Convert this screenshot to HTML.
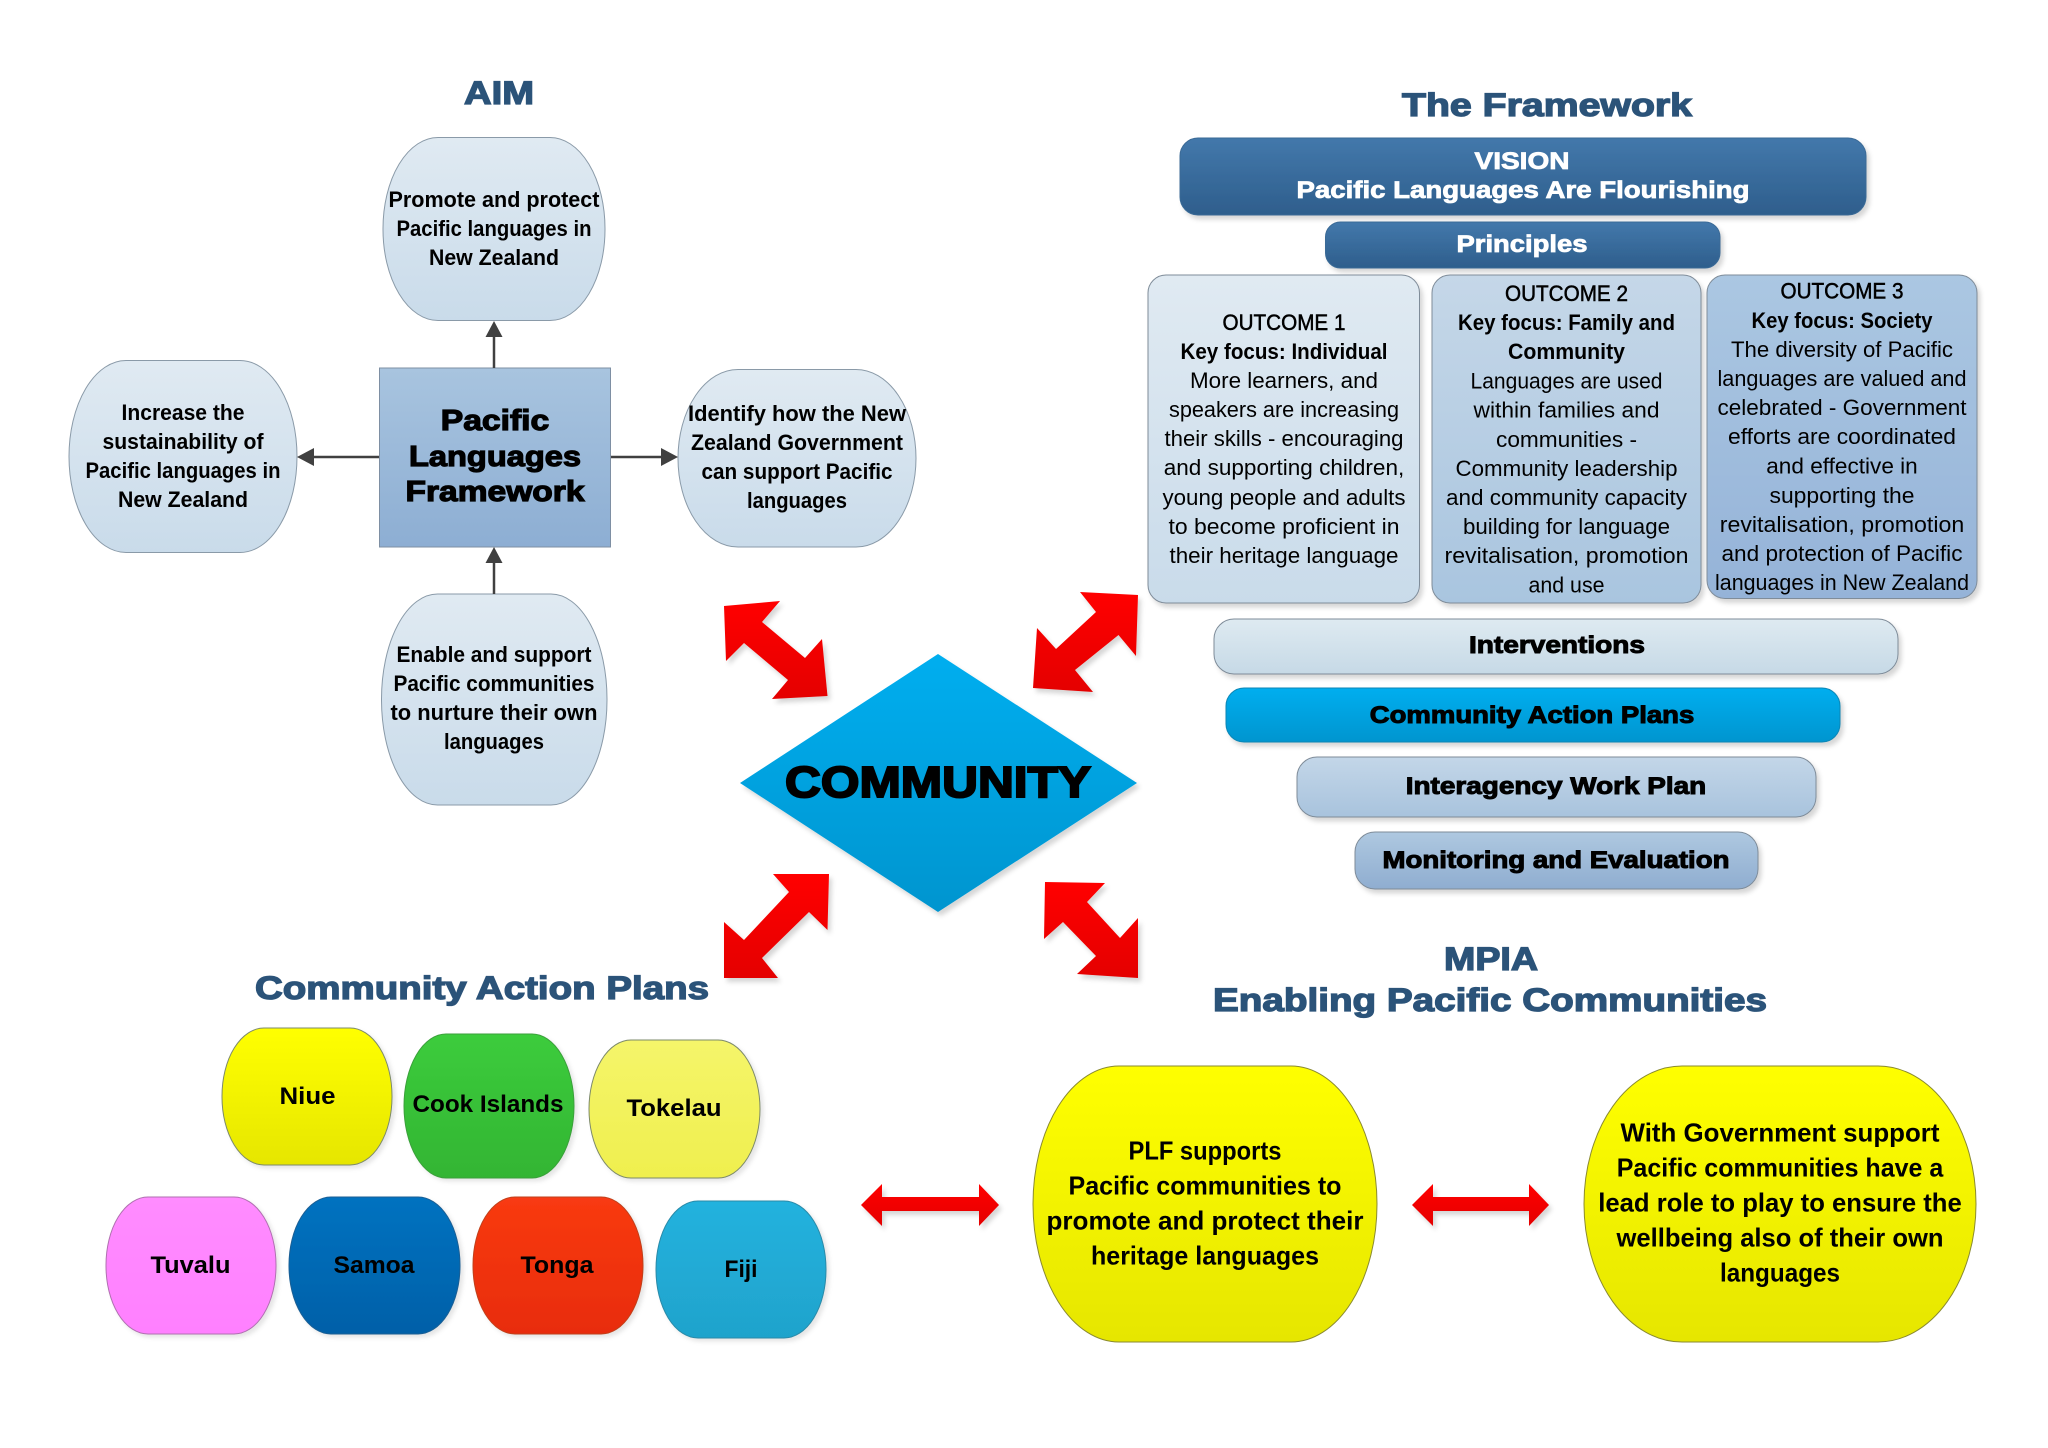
<!DOCTYPE html>
<html lang="en">
<head>
<meta charset="utf-8">
<title>Pacific Languages Framework</title>
<style>
html,body{margin:0;padding:0;background:#fff;}
svg{display:block;}
text{font-family:"Liberation Sans",Arial,sans-serif;text-anchor:middle;fill:#000;}
.b{font-size:22px;font-weight:bold;}
.r{font-size:22px;}
.m{font-size:22px;stroke:#000;stroke-width:.5px;}
.c{font-size:24px;font-weight:bold;}
.y{font-size:26px;font-weight:bold;}
.h{font-size:32px;font-weight:bold;fill:#2b5379;stroke:#2b5379;stroke-width:1.3px;}
.w{font-size:24.500px;font-weight:bold;fill:#fff;stroke:#fff;stroke-width:.8px;}
.k{font-size:24px;font-weight:bold;stroke:#000;stroke-width:1px;}
.f{font-size:29px;font-weight:bold;stroke:#000;stroke-width:1.2px;}
.d{font-size:44px;font-weight:bold;stroke:#000;stroke-width:2px;}
</style>
</head>
<body>
<svg width="2048" height="1448" viewBox="0 0 2048 1448" xmlns="http://www.w3.org/2000/svg">
<defs>
<linearGradient id="pale" x1="0" y1="0" x2="0" y2="1"><stop offset="0" stop-color="#e0eaf2"/><stop offset="1" stop-color="#c9dbea"/></linearGradient>
<linearGradient id="box" x1="0" y1="0" x2="0" y2="1"><stop offset="0" stop-color="#a8c4df"/><stop offset="1" stop-color="#8daed3"/></linearGradient>
<linearGradient id="o2" x1="0" y1="0" x2="0" y2="1"><stop offset="0" stop-color="#c5d7e8"/><stop offset="1" stop-color="#a9c5df"/></linearGradient>
<linearGradient id="o3" x1="0" y1="0" x2="0" y2="1"><stop offset="0" stop-color="#abc7e2"/><stop offset="1" stop-color="#95b3d8"/></linearGradient>
<linearGradient id="int" x1="0" y1="0" x2="0" y2="1"><stop offset="0" stop-color="#deeaf1"/><stop offset="1" stop-color="#c6d9e6"/></linearGradient>
<linearGradient id="cap" x1="0" y1="0" x2="0" y2="1"><stop offset="0" stop-color="#00aeef"/><stop offset="1" stop-color="#0095cf"/></linearGradient>
<linearGradient id="ia" x1="0" y1="0" x2="0" y2="1"><stop offset="0" stop-color="#c3d6e8"/><stop offset="1" stop-color="#a8c3dd"/></linearGradient>
<linearGradient id="mon" x1="0" y1="0" x2="0" y2="1"><stop offset="0" stop-color="#aec8e0"/><stop offset="1" stop-color="#8fadd0"/></linearGradient>
<linearGradient id="vis" x1="0" y1="0" x2="0" y2="1"><stop offset="0" stop-color="#4378ab"/><stop offset="1" stop-color="#2e5e8c"/></linearGradient>
<linearGradient id="dia" x1="0" y1="0" x2="0" y2="1"><stop offset="0" stop-color="#00aeef"/><stop offset="1" stop-color="#0095cf"/></linearGradient>
<linearGradient id="yel" x1="0" y1="0" x2="0" y2="1"><stop offset="0" stop-color="#ffff00"/><stop offset="1" stop-color="#e6e600"/></linearGradient>
<linearGradient id="grn" x1="0" y1="0" x2="0" y2="1"><stop offset="0" stop-color="#3ccc3c"/><stop offset="1" stop-color="#33b533"/></linearGradient>
<linearGradient id="tok" x1="0" y1="0" x2="0" y2="1"><stop offset="0" stop-color="#f5f56a"/><stop offset="1" stop-color="#efef4e"/></linearGradient>
<linearGradient id="tuv" x1="0" y1="0" x2="0" y2="1"><stop offset="0" stop-color="#ff8cff"/><stop offset="1" stop-color="#ff80ff"/></linearGradient>
<linearGradient id="sam" x1="0" y1="0" x2="0" y2="1"><stop offset="0" stop-color="#0072c0"/><stop offset="1" stop-color="#0060a8"/></linearGradient>
<linearGradient id="ton" x1="0" y1="0" x2="0" y2="1"><stop offset="0" stop-color="#f93a12"/><stop offset="1" stop-color="#e82c08"/></linearGradient>
<linearGradient id="fij" x1="0" y1="0" x2="0" y2="1"><stop offset="0" stop-color="#22b2de"/><stop offset="1" stop-color="#1fa3cc"/></linearGradient>
<linearGradient id="red" x1="0" y1="0" x2="0" y2="1"><stop offset="0" stop-color="#ff0000"/><stop offset="1" stop-color="#e40000"/></linearGradient>
<filter id="sh" x="-10%" y="-10%" width="125%" height="125%"><feDropShadow dx="3" dy="4" stdDeviation="2.500" flood-color="#000" flood-opacity=".16"/></filter>
<filter id="sl" x="-10%" y="-10%" width="125%" height="125%"><feDropShadow dx="3" dy="3" stdDeviation="2" flood-color="#000" flood-opacity=".1"/></filter>
</defs>

<!-- AIM -->
<text class="h" x="499" y="104" textLength="70" lengthAdjust="spacingAndGlyphs">AIM</text>
<g stroke="#8a9aa8" stroke-width="1" fill="url(#pale)">
<rect x="383" y="137.500" width="222" height="183" rx="55" ry="91"/>
<rect x="69" y="360.500" width="228" height="192" rx="57" ry="96"/>
<rect x="678" y="369.500" width="238" height="177.500" rx="60" ry="89"/>
<rect x="381.500" y="594" width="225.500" height="211" rx="56" ry="105"/>
</g>
<rect x="379.500" y="368" width="231" height="179" fill="url(#box)" stroke="#7e8fa3" stroke-width="1"/>
<g stroke="#404040" stroke-width="2.500" fill="none">
<line x1="494" y1="368" x2="494" y2="335"/>
<line x1="379" y1="457" x2="312" y2="457"/>
<line x1="611" y1="457" x2="663" y2="457"/>
<line x1="494" y1="594" x2="494" y2="562"/>
</g>
<g fill="#404040">
<polygon points="494,321 485.500,337 502.500,337"/>
<polygon points="297,457 314,448 314,466"/>
<polygon points="678,457 661,448 661,466"/>
<polygon points="494,547 485.500,563 502.500,563"/>
</g>
<text class="b" x="494" y="207" textLength="211" lengthAdjust="spacingAndGlyphs">Promote and protect</text>
<text class="b" x="494" y="236" textLength="195" lengthAdjust="spacingAndGlyphs">Pacific languages in</text>
<text class="b" x="494" y="265" textLength="130" lengthAdjust="spacingAndGlyphs">New Zealand</text>
<text class="b" x="183" y="420" textLength="123" lengthAdjust="spacingAndGlyphs">Increase the</text>
<text class="b" x="183" y="449" textLength="161" lengthAdjust="spacingAndGlyphs">sustainability of</text>
<text class="b" x="183" y="478" textLength="195" lengthAdjust="spacingAndGlyphs">Pacific languages in</text>
<text class="b" x="183" y="507" textLength="130" lengthAdjust="spacingAndGlyphs">New Zealand</text>
<text class="b" x="797" y="421" textLength="218" lengthAdjust="spacingAndGlyphs">Identify how the New</text>
<text class="b" x="797" y="450" textLength="212" lengthAdjust="spacingAndGlyphs">Zealand Government</text>
<text class="b" x="797" y="479" textLength="191" lengthAdjust="spacingAndGlyphs">can support Pacific</text>
<text class="b" x="797" y="508" textLength="100" lengthAdjust="spacingAndGlyphs">languages</text>
<text class="b" x="494" y="662" textLength="195" lengthAdjust="spacingAndGlyphs">Enable and support</text>
<text class="b" x="494" y="691" textLength="201" lengthAdjust="spacingAndGlyphs">Pacific communities</text>
<text class="b" x="494" y="720" textLength="207" lengthAdjust="spacingAndGlyphs">to nurture their own</text>
<text class="b" x="494" y="749" textLength="100" lengthAdjust="spacingAndGlyphs">languages</text>
<text class="f" x="495" y="430" textLength="108.500" lengthAdjust="spacingAndGlyphs">Pacific</text>
<text class="f" x="495" y="466" textLength="172" lengthAdjust="spacingAndGlyphs">Languages</text>
<text class="f" x="495" y="501" textLength="179" lengthAdjust="spacingAndGlyphs">Framework</text>

<!-- The Framework -->
<text class="h" x="1547" y="116" textLength="290" lengthAdjust="spacingAndGlyphs">The Framework</text>
<g filter="url(#sh)" stroke="#7f8c99" stroke-width="1">
<rect x="1180" y="138" width="686" height="77" rx="18" ry="18" fill="url(#vis)" stroke="#3a6a96"/>
<rect x="1325.500" y="222" width="394.500" height="46" rx="15" ry="15" fill="url(#vis)" stroke="#3a6a96"/>
<rect x="1148" y="275" width="271.500" height="328" rx="18" ry="18" fill="url(#pale)"/>
<rect x="1432" y="275" width="269" height="328" rx="18" ry="18" fill="url(#o2)"/>
<rect x="1707" y="275" width="270" height="323.500" rx="18" ry="18" fill="url(#o3)"/>
<rect x="1214" y="619" width="684" height="55" rx="20" ry="20" fill="url(#int)"/>
<rect x="1226" y="688" width="614" height="54" rx="18" ry="18" fill="url(#cap)" stroke="#0a86b5"/>
<rect x="1297" y="757" width="519" height="60" rx="20" ry="20" fill="url(#ia)"/>
<rect x="1355" y="832" width="403" height="57" rx="20" ry="20" fill="url(#mon)"/>
</g>
<text class="w" x="1522" y="169" textLength="95" lengthAdjust="spacingAndGlyphs">VISION</text>
<text class="w" x="1523" y="198" textLength="453" lengthAdjust="spacingAndGlyphs">Pacific Languages Are Flourishing</text>
<text class="w" x="1522" y="252" textLength="131" lengthAdjust="spacingAndGlyphs">Principles</text>

<text class="m" x="1284" y="330" textLength="123" lengthAdjust="spacingAndGlyphs">OUTCOME 1</text>
<text class="b" x="1284" y="359" textLength="207" lengthAdjust="spacingAndGlyphs">Key focus: Individual</text>
<text class="r" x="1284" y="388" textLength="188" lengthAdjust="spacingAndGlyphs">More learners, and</text>
<text class="r" x="1284" y="417" textLength="230" lengthAdjust="spacingAndGlyphs">speakers are increasing</text>
<text class="r" x="1284" y="446" textLength="239" lengthAdjust="spacingAndGlyphs">their skills - encouraging</text>
<text class="r" x="1284" y="475" textLength="240.500" lengthAdjust="spacingAndGlyphs">and supporting children,</text>
<text class="r" x="1284" y="505" textLength="243" lengthAdjust="spacingAndGlyphs">young people and adults</text>
<text class="r" x="1284" y="534" textLength="231" lengthAdjust="spacingAndGlyphs">to become proficient in</text>
<text class="r" x="1284" y="563" textLength="229" lengthAdjust="spacingAndGlyphs">their heritage language</text>

<text class="m" x="1566.500" y="301" textLength="123" lengthAdjust="spacingAndGlyphs">OUTCOME 2</text>
<text class="b" x="1566.500" y="330" textLength="217" lengthAdjust="spacingAndGlyphs">Key focus: Family and</text>
<text class="b" x="1566.500" y="359" textLength="117" lengthAdjust="spacingAndGlyphs">Community</text>
<text class="r" x="1566.500" y="388.500" textLength="192" lengthAdjust="spacingAndGlyphs">Languages are used</text>
<text class="r" x="1566.500" y="417.500" textLength="186" lengthAdjust="spacingAndGlyphs">within families and</text>
<text class="r" x="1566.500" y="447" textLength="141" lengthAdjust="spacingAndGlyphs">communities -</text>
<text class="r" x="1566.500" y="476" textLength="222" lengthAdjust="spacingAndGlyphs">Community leadership</text>
<text class="r" x="1566.500" y="505" textLength="241" lengthAdjust="spacingAndGlyphs">and community capacity</text>
<text class="r" x="1566.500" y="534" textLength="207" lengthAdjust="spacingAndGlyphs">building for language</text>
<text class="r" x="1566.500" y="563" textLength="244" lengthAdjust="spacingAndGlyphs">revitalisation, promotion</text>
<text class="r" x="1566.500" y="592.500" textLength="76" lengthAdjust="spacingAndGlyphs">and use</text>

<text class="m" x="1842" y="298.500" textLength="123" lengthAdjust="spacingAndGlyphs">OUTCOME 3</text>
<text class="b" x="1842" y="328" textLength="181" lengthAdjust="spacingAndGlyphs">Key focus: Society</text>
<text class="r" x="1842" y="357" textLength="222" lengthAdjust="spacingAndGlyphs">The diversity of Pacific</text>
<text class="r" x="1842" y="386" textLength="249" lengthAdjust="spacingAndGlyphs">languages are valued and</text>
<text class="r" x="1842" y="415" textLength="249" lengthAdjust="spacingAndGlyphs">celebrated - Government</text>
<text class="r" x="1842" y="444" textLength="228" lengthAdjust="spacingAndGlyphs">efforts are coordinated</text>
<text class="r" x="1842" y="473.500" textLength="151.500" lengthAdjust="spacingAndGlyphs">and effective in</text>
<text class="r" x="1842" y="503" textLength="145" lengthAdjust="spacingAndGlyphs">supporting the</text>
<text class="r" x="1842" y="532" textLength="244.500" lengthAdjust="spacingAndGlyphs">revitalisation, promotion</text>
<text class="r" x="1842" y="561" textLength="241" lengthAdjust="spacingAndGlyphs">and protection of Pacific</text>
<text class="r" x="1842" y="590" textLength="254" lengthAdjust="spacingAndGlyphs">languages in New Zealand</text>

<text class="k" x="1557" y="653" textLength="176" lengthAdjust="spacingAndGlyphs">Interventions</text>
<text class="k" x="1532" y="723" textLength="324.500" lengthAdjust="spacingAndGlyphs">Community Action Plans</text>
<text class="k" x="1556" y="794" textLength="300.500" lengthAdjust="spacingAndGlyphs">Interagency Work Plan</text>
<text class="k" x="1556" y="868" textLength="347" lengthAdjust="spacingAndGlyphs">Monitoring and Evaluation</text>

<!-- Community diamond and red arrows -->
<polygon points="938,654 1137,783 938,912 740,783" fill="url(#dia)" filter="url(#sh)"/>
<text class="d" x="938" y="797" textLength="306" lengthAdjust="spacingAndGlyphs">COMMUNITY</text>
<g fill="url(#red)" filter="url(#sh)">
<polygon points="724,606 780,601 762,622 805,658 822,639 827.500,696 772,699 788,680 744,643 726,661"/>
<polygon points="1138,595 1080,592 1096,612 1056,649 1037,628 1033,688 1093,692 1075,670 1118.500,635 1136,656"/>
<polygon points="829,874 773,874 789,892 744,940 724,922 724,978 778,978 762,958 809,912 827.500,930"/>
<polygon points="1045,882 1105,883 1087,902 1120,938 1138,918 1138,978 1077,974 1096,956 1063,922 1044,939"/>
<polygon points="861,1205 882,1184 882,1197 979,1197 979,1184 999,1205 979,1226 979,1211 882,1211 882,1226"/>
<polygon points="1412,1205 1433,1184 1433,1197 1529,1197 1529,1184 1549,1205 1529,1226 1529,1211 1433,1211 1433,1226"/>
</g>

<!-- Community Action Plans -->
<text class="h" x="482" y="999" textLength="454" lengthAdjust="spacingAndGlyphs">Community Action Plans</text>
<g filter="url(#sl)" stroke="#7d8a6a" stroke-width="1">
<rect x="222" y="1028" width="170" height="137" rx="42" ry="68" fill="url(#yel)"/>
<rect x="404" y="1034" width="170" height="144" rx="42" ry="72" fill="url(#grn)" stroke="#3aa03a"/>
<rect x="589" y="1040" width="171" height="138" rx="42" ry="69" fill="url(#tok)"/>
<rect x="106" y="1197" width="170" height="137" rx="42" ry="68" fill="url(#tuv)" stroke="#b070b0"/>
<rect x="289" y="1197" width="171" height="137" rx="42" ry="68" fill="url(#sam)" stroke="#1a5e94"/>
<rect x="473" y="1197" width="170" height="137" rx="42" ry="68" fill="url(#ton)" stroke="#c0401a"/>
<rect x="656" y="1201" width="170" height="137" rx="42" ry="68" fill="url(#fij)" stroke="#2a8aa8"/>
</g>
<text class="c" x="307.500" y="1104" textLength="56" lengthAdjust="spacingAndGlyphs">Niue</text>
<text class="c" x="488" y="1112" textLength="151" lengthAdjust="spacingAndGlyphs">Cook Islands</text>
<text class="c" x="674" y="1116" textLength="95" lengthAdjust="spacingAndGlyphs">Tokelau</text>
<text class="c" x="190.500" y="1273" textLength="80" lengthAdjust="spacingAndGlyphs">Tuvalu</text>
<text class="c" x="374" y="1273" textLength="81" lengthAdjust="spacingAndGlyphs">Samoa</text>
<text class="c" x="557" y="1273" textLength="73" lengthAdjust="spacingAndGlyphs">Tonga</text>
<text class="c" x="741" y="1277" textLength="33" lengthAdjust="spacingAndGlyphs">Fiji</text>

<!-- MPIA -->
<text class="h" x="1491" y="970" textLength="94" lengthAdjust="spacingAndGlyphs">MPIA</text>
<text class="h" x="1490" y="1011" textLength="554" lengthAdjust="spacingAndGlyphs">Enabling Pacific Communities</text>
<g stroke="#8a8a30" stroke-width="1" fill="url(#yel)">
<rect x="1033" y="1066" width="344" height="276" rx="86" ry="138"/>
<rect x="1584" y="1066" width="392" height="276" rx="98" ry="138"/>
</g>
<text class="y" x="1205" y="1159.500" textLength="153" lengthAdjust="spacingAndGlyphs">PLF supports</text>
<text class="y" x="1205" y="1194.500" textLength="273" lengthAdjust="spacingAndGlyphs">Pacific communities to</text>
<text class="y" x="1205" y="1229.500" textLength="317" lengthAdjust="spacingAndGlyphs">promote and protect their</text>
<text class="y" x="1205" y="1264.500" textLength="228" lengthAdjust="spacingAndGlyphs">heritage languages</text>
<text class="y" x="1780" y="1141.500" textLength="319" lengthAdjust="spacingAndGlyphs">With Government support</text>
<text class="y" x="1780" y="1176.500" textLength="326.500" lengthAdjust="spacingAndGlyphs">Pacific communities have a</text>
<text class="y" x="1780" y="1211.500" textLength="363.500" lengthAdjust="spacingAndGlyphs">lead role to play to ensure the</text>
<text class="y" x="1780" y="1246.500" textLength="327" lengthAdjust="spacingAndGlyphs">wellbeing also of their own</text>
<text class="y" x="1780" y="1281.500" textLength="120" lengthAdjust="spacingAndGlyphs">languages</text>
</svg>
</body>
</html>
